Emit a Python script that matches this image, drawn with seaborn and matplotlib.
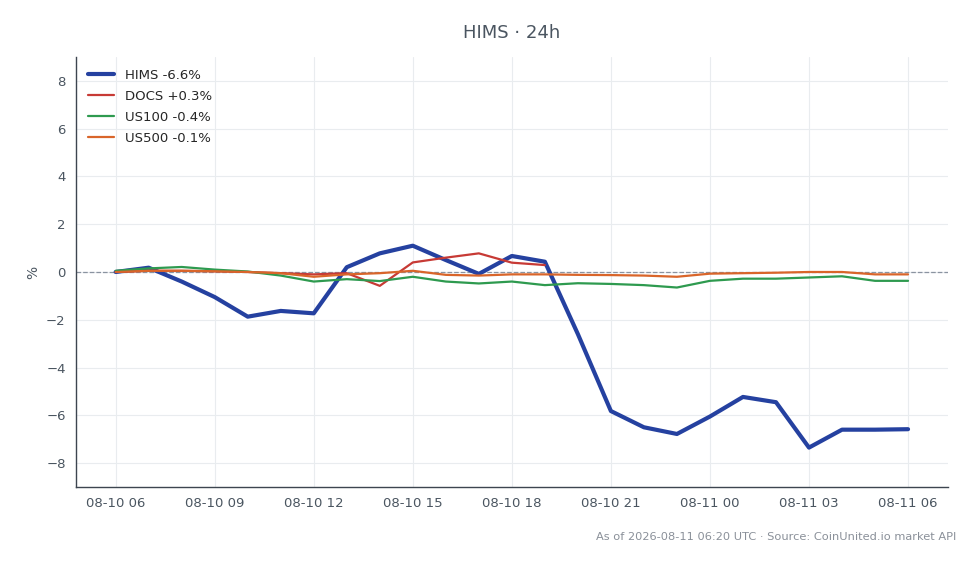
import pandas as pd
import numpy as np
import matplotlib
matplotlib.use("Agg")
import matplotlib.pyplot as plt
import matplotlib.dates as mdates
import seaborn as sns

# Данные (изменение в %, по часам)
hours = pd.date_range("2026-08-10 06:00", "2026-08-11 06:00", freq="h")

hims = [0.0, 0.18, -0.4, -1.05, -1.87, -1.63, -1.73, 0.2, 0.78, 1.1, 0.5, -0.08,
        0.67, 0.43, -2.6, -5.82, -6.5, -6.78, -6.05, -5.23, -5.45, -7.35, -6.6, -6.6, -6.58]
docs = [0.0, 0.05, 0.05, 0.03, 0.0, -0.05, -0.1, -0.05, -0.58, 0.4, 0.6, 0.78, 0.39, 0.29]
us100 = [0.05, 0.15, 0.21, 0.1, 0.02, -0.15, -0.4, -0.3, -0.38, -0.2, -0.4, -0.48,
         -0.4, -0.55, -0.47, -0.5, -0.55, -0.65, -0.37, -0.28, -0.28, -0.23, -0.18, -0.37, -0.37]
us500 = [0.0, 0.05, 0.05, 0.03, 0.0, -0.05, -0.2, -0.1, -0.05, 0.05, -0.12, -0.15,
         -0.1, -0.1, -0.12, -0.13, -0.15, -0.2, -0.07, -0.05, -0.03, 0.0, 0.0, -0.1, -0.1]

series = [
    ("HIMS -6.6%", hims, "#2541a0", 3.0),
    ("DOCS +0.3%", docs, "#c73a35", 1.6),
    ("US100 -0.4%", us100, "#2e9a4f", 1.6),
    ("US500 -0.1%", us500, "#d9652a", 1.6),
]

sns.set_style("whitegrid")
plt.rcParams["font.family"] = ["DejaVu Sans"]

fig = plt.figure(figsize=(9.8, 5.64), dpi=100)
ax = fig.add_axes([0.0776, 0.1365, 0.8894, 0.7625])

for name, vals, color, lw in series:
    df = pd.DataFrame({"t": hours[:len(vals)], "v": vals})
    sns.lineplot(data=df, x="t", y="v", ax=ax, color=color, linewidth=lw, label=name, zorder=3)

ax.axhline(0, color="#8a93a0", linestyle="--", linewidth=0.9, zorder=2)

ax.set_ylim(-9, 9)
ax.set_yticks([-8, -6, -4, -2, 0, 2, 4, 6, 8])
ax.yaxis.set_major_formatter(matplotlib.ticker.FuncFormatter(lambda v, p: f"{v:.0f}".replace("-", "\u2212")))
ax.xaxis.set_major_locator(mdates.HourLocator(byhour=range(0, 24, 3)))
ax.xaxis.set_major_formatter(mdates.DateFormatter("%m-%d %H"))
ax.margins(x=0.05)

ax.set_xlabel("")
ax.set_ylabel("%", color="#4a5560", fontsize=10)
ax.set_title("HIMS · 24h", color="#4a5560", fontsize=13, pad=14)

ax.grid(True, color="#e9ecef", linewidth=0.8, zorder=0)
ax.set_axisbelow(True)
for s in ["top", "right"]:
    ax.spines[s].set_visible(False)
for s in ["left", "bottom"]:
    ax.spines[s].set_color("#3d4550")
    ax.spines[s].set_linewidth(1.0)
ax.tick_params(axis="both", colors="#4a5560", labelsize=9.5, length=4, width=0.8)
ax.tick_params(axis="both", which="both", color="#3d4550")

leg = ax.legend(loc="upper left", frameon=False, fontsize=9.5, handlelength=2.0,
                borderaxespad=0.5, labelspacing=0.6, handletextpad=0.8)

fig.text(0.976, 0.047, "As of 2026-08-11 06:20 UTC · Source: CoinUnited.io market API",
         ha="right", va="center", color="#8a9099", fontsize=8.2)

fig.savefig("out.png", dpi=100)
